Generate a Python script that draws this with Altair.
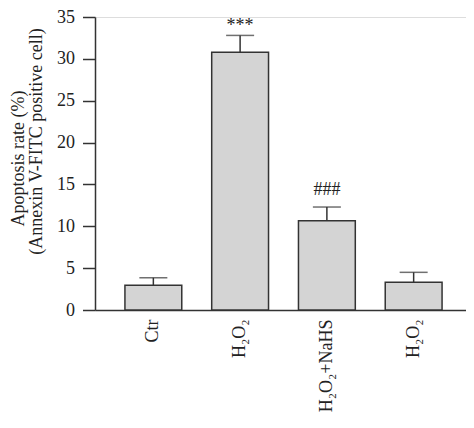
import json
import altair as alt
import pandas as pd

# ---- data ----
group_ids = ["g1", "g2", "g3", "g4"]
group_labels = ["Ctr", "H₂O₂", "H₂O₂+NaHS", "H₂O₂"]
means = [2.95, 30.8, 10.65, 3.3]
errors = [0.9, 2.0, 1.65, 1.2]
marks = ["", "***", "###", ""]
y_ticks = [0, 5, 10, 15, 20, 25, 30, 35]
y_title_main = "Apoptosis rate (%)"
y_title_sub = "(Annexin V-FITC positive cell)"

df = pd.DataFrame({
    "group": group_ids,
    "mean": means,
    "err": errors,
    "mark": marks,
})
df["upper"] = df["mean"] + df["err"]

label_map = json.dumps(dict(zip(group_ids, group_labels)), ensure_ascii=False)

FONT = "Liberation Serif"
INK = "#222222"
LINE = "#333333"
FS = 18

x_enc = alt.X(
    "group:N",
    sort=group_ids,
    scale=alt.Scale(paddingInner=0.345, paddingOuter=0.345, range=[0, 377]),
    axis=alt.Axis(
        title=None,
        labelExpr=f"{label_map}[datum.value]",
        labelAngle=-90,
        labelFont=FONT,
        labelFontSize=FS,
        labelColor=INK,
        labelPadding=9,
        ticks=False,
        domainColor=LINE,
        domainWidth=1.5,
    ),
)

y_scale = alt.Scale(domain=[0, 35], nice=False)

base = alt.Chart(df)

bars = base.mark_bar(fill="#d4d4d4", stroke=LINE, strokeWidth=1.5).encode(
    x=x_enc,
    y=alt.Y(
        "mean:Q",
        scale=y_scale,
        axis=alt.Axis(
            values=y_ticks,
            grid=False,
            title=y_title_sub,
            titleFont=FONT,
            titleFontSize=FS,
            titleFontWeight="normal",
            titleColor=INK,
            titleAngle=-90,
            titleAlign="center",
            titleBaseline="middle",
            titleX=-59,
            titleY=124,
            labelFont=FONT,
            labelFontSize=FS,
            labelColor=INK,
            labelPadding=8,
            tickSize=12.5,
            tickColor=LINE,
            tickWidth=1.5,
            domainColor=LINE,
            domainWidth=1.5,
        ),
    ),
)

err_line = base.mark_rule(color=LINE, strokeWidth=1.5).encode(
    x=alt.X("group:N", sort=group_ids),
    y=alt.Y("mean:Q", scale=y_scale),
    y2="upper:Q",
)

err_cap = base.mark_tick(color=LINE, thickness=1.5, size=28).encode(
    x=alt.X("group:N", sort=group_ids),
    y=alt.Y("upper:Q", scale=y_scale),
)

stars = base.transform_filter("datum.mark == '***'").mark_text(
    font=FONT, fontSize=FS, color=INK, baseline="alphabetic", dy=-4
).encode(
    x=alt.X("group:N", sort=group_ids),
    y=alt.Y("upper:Q", scale=y_scale),
    text="mark:N",
)

hashes = base.transform_filter("datum.mark == '###'").mark_text(
    font=FONT, fontSize=FS, color=INK, baseline="alphabetic", dy=-12
).encode(
    x=alt.X("group:N", sort=group_ids),
    y=alt.Y("upper:Q", scale=y_scale),
    text="mark:N",
)

chart = (
    alt.layer(bars, err_line, err_cap, stars, hashes)
    .properties(
        width=371,
        height=293,
        autosize=alt.AutoSizeParams(type="none"),
        padding={"left": 87, "top": 9, "right": 0, "bottom": 104},
        title=alt.TitleParams(
            y_title_main,
            orient="left",
            anchor="middle",
            frame="group",
            font=FONT,
            fontSize=FS,
            fontWeight="normal",
            color=INK,
            offset=-1,
            dx=5,
        ),
    )
    .configure_view(stroke=None)
    .configure(background="white")
)

chart.save("out.html", embed_options={"renderer": "svg", "actions": False})
